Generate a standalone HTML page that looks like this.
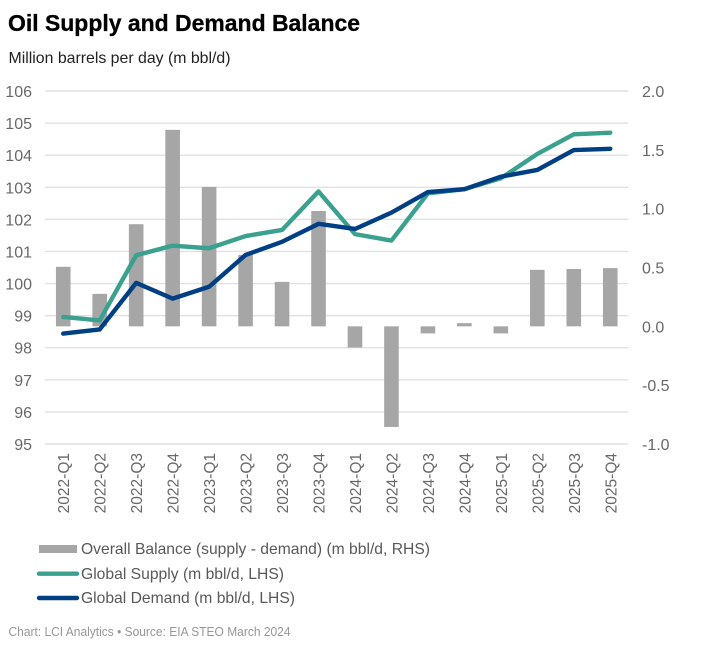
<!DOCTYPE html>
<html lang="en">
<head>
<meta charset="utf-8">
<title>Oil Supply and Demand Balance</title>
<style>
html,body{margin:0;padding:0;background:#fff;}
svg{display:block;font-family:"Liberation Sans",sans-serif;}
</style>
</head>
<body>
<svg id="chart" width="704" height="646" viewBox="0 0 704 646" xmlns="http://www.w3.org/2000/svg">
  <text x="8" y="31" font-size="23.5" font-weight="700" fill="#000" stroke="#000" stroke-width="0.3" textLength="352" lengthAdjust="spacingAndGlyphs">Oil Supply and Demand Balance</text>
  <text x="8.5" y="63" font-size="16" fill="#222" textLength="222" lengthAdjust="spacingAndGlyphs">Million barrels per day (m bbl/d)</text>
  <g id="grid"></g>
  <g id="bars"></g>
  <g id="lines"></g>
  <g id="axes"></g>
  <g>
    <rect x="39" y="545" width="38" height="8" fill="#a6a6a6"/>
    <text x="81" y="554" font-size="16" fill="#595959" textLength="349" lengthAdjust="spacingAndGlyphs">Overall Balance (supply - demand) (m bbl/d, RHS)</text>
    <line x1="39" x2="77" y1="573.7" y2="573.7" stroke="#3aa18f" stroke-width="4.4" stroke-linecap="round"/>
    <text x="81" y="579" font-size="16" fill="#595959" textLength="203" lengthAdjust="spacingAndGlyphs">Global Supply (m bbl/d, LHS)</text>
    <line x1="39" x2="77" y1="598" y2="598" stroke="#003f84" stroke-width="4.4" stroke-linecap="round"/>
    <text x="81" y="603" font-size="16" fill="#595959" textLength="214" lengthAdjust="spacingAndGlyphs">Global Demand (m bbl/d, LHS)</text>
  </g>
  <text x="8.5" y="636" font-size="12.5" fill="#979797" textLength="282" lengthAdjust="spacingAndGlyphs">Chart: LCI Analytics • Source: EIA STEO March 2024</text>
</svg>
<script>
const categories = ["2022-Q1","2022-Q2","2022-Q3","2022-Q4","2023-Q1","2023-Q2","2023-Q3","2023-Q4","2024-Q1","2024-Q2","2024-Q3","2024-Q4","2025-Q1","2025-Q2","2025-Q3","2025-Q4"];
const balance = [0.506,0.276,0.868,1.67,1.185,0.607,0.378,0.98,-0.18,-0.855,-0.06,0.027,-0.06,0.48,0.487,0.495];
const supply = [98.96,98.85,100.88,101.18,101.1,101.48,101.67,102.87,101.54,101.34,102.81,102.94,103.28,104.04,104.65,104.7];
const demand = [98.44,98.57,100.02,99.53,99.9,100.89,101.3,101.86,101.7,102.21,102.85,102.94,103.33,103.54,104.16,104.2];
const leftTicks = [95,96,97,98,99,100,101,102,103,104,105,106];
const rightTicks = ["-1.0","-0.5","0.0","0.5","1.0","1.5","2.0"];

const NS = "http://www.w3.org/2000/svg";
const plotLeft = 45, plotRight = 628.5, plotTop = 91, plotBottom = 444;
const yLeft = v => plotBottom - (v - 95) / (106 - 95) * (plotBottom - plotTop);
const yRight = v => plotBottom - (v + 1) / 3 * (plotBottom - plotTop);
const band = (plotRight - plotLeft) / categories.length;
const xPos = i => plotLeft + band * (i + 0.5);
const BAR_W = 14.6;

function make(tag, attrs, parent, text) {
  const el = document.createElementNS(NS, tag);
  for (const k in attrs) el.setAttribute(k, attrs[k]);
  if (text !== undefined) el.textContent = text;
  parent.appendChild(el);
  return el;
}

const gridG = document.getElementById("grid");
const barsG = document.getElementById("bars");
const linesG = document.getElementById("lines");
const axesG = document.getElementById("axes");

leftTicks.forEach(t => {
  const g = make("line", {x1: plotLeft, x2: plotRight, y1: yLeft(t), y2: yLeft(t), stroke: "#e1e1e1", "stroke-width": 1.4}, gridG);
  
  
  const l = make("text", {x: 32, y: yLeft(t) + 6, "text-anchor": "end", "font-size": 16, fill: "#686868"}, axesG, String(t));
  
  
});

rightTicks.forEach(t => {
  const l = make("text", {x: 642, y: yRight(parseFloat(t)) + 6, "font-size": 16, fill: "#686868"}, axesG, t);
  
  
});

categories.forEach((c, i) => {
  const y0 = yRight(0), y1 = yRight(balance[i]);
  const b = make("rect", {x: xPos(i) - BAR_W / 2, y: Math.min(y0, y1), width: BAR_W, height: Math.abs(y1 - y0), fill: "#a6a6a6"}, barsG);
  
  
  const cx = xPos(i) + 6, cy = 453;
  const l = make("text", {x: cx, y: cy, "text-anchor": "end", "font-size": 15.5, fill: "#686868", transform: "rotate(-90 " + cx + " " + cy + ")"}, axesG, c);
  
  
});

const supplyPath = make("polyline", {points: supply.map((v, i) => xPos(i) + "," + yLeft(v)).join(" "), fill: "none", stroke: "#3aa18f", "stroke-width": 4.4, "stroke-linecap": "round", "stroke-linejoin": "round"}, linesG);


const demandPath = make("polyline", {points: demand.map((v, i) => xPos(i) + "," + yLeft(v)).join(" "), fill: "none", stroke: "#003f84", "stroke-width": 4.4, "stroke-linecap": "round", "stroke-linejoin": "round"}, linesG);


</script>
</body>
</html>
